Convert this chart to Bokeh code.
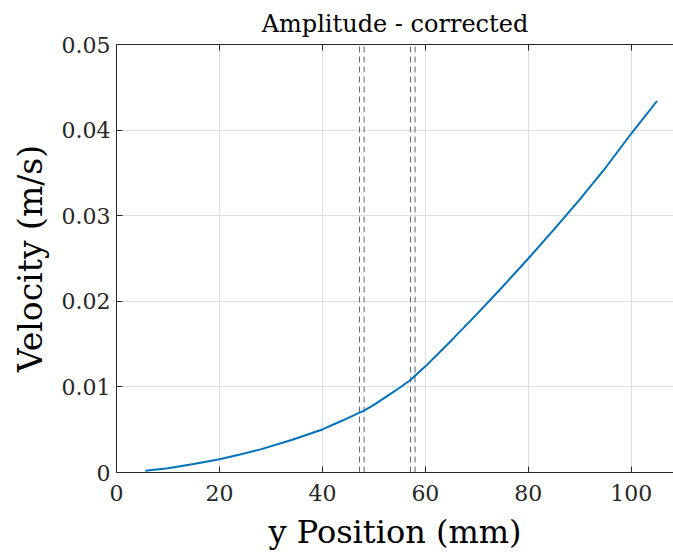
from bokeh.plotting import figure
from bokeh.models import Range1d, LinearAxis, FixedTicker, Title
from bokeh.embed import file_html
from bokeh.resources import INLINE

# ---- data ----
pos_mm = [5.6, 10, 15, 20, 24, 28, 34, 40, 44, 47.2, 48.0, 50, 52.5, 55, 57.1, 58.0, 60, 65, 70,
          75, 80, 85, 90, 95, 100, 105]
vel = [0.0002, 0.0005, 0.0010, 0.00154, 0.0021, 0.0027, 0.0038, 0.00503, 0.0061, 0.0070, 0.0072, 0.0079,
       0.0089, 0.0099, 0.0108, 0.0113, 0.0124, 0.0154, 0.0185, 0.0217, 0.0250, 0.0284, 0.0319, 0.0356,
       0.0396, 0.0434]
boundaries_mm = [47.2, 48.1, 57.1, 58.0]
x_ticks = [0, 20, 40, 60, 80, 100]
x_tick_labels = ["0", "20", "40", "60", "80", "100"]
y_ticks = [0, 0.01, 0.02, 0.03, 0.04, 0.05]
y_tick_labels = ["0", "0.01", "0.02", "0.03", "0.04", "0.05"]
title_text = "Amplitude - corrected"
x_label = "y Position (mm)"
y_label = "Velocity (m/s)"

FONT = "DejaVu Serif"
AX = "#262626"

p = figure(width=673, height=558, output_backend="svg", toolbar_location=None,
           x_range=Range1d(0, 108.2), y_range=Range1d(0, 0.05),
           x_axis_location=None, y_axis_location=None,
           min_border_left=116, min_border_right=0, min_border_top=43, min_border_bottom=85)
p.outline_line_color = None
p.background_fill_color = "white"

def style_axis(ax, ticks, labels, show_labels=True):
    ax.ticker = FixedTicker(ticks=ticks)
    ax.major_label_overrides = {t: l for t, l in zip(ticks, labels)}
    ax.axis_line_color = AX
    ax.axis_line_width = 1
    ax.major_tick_line_color = AX
    ax.major_tick_in = 6
    ax.major_tick_out = 0
    ax.minor_tick_line_color = None
    ax.major_label_text_font = FONT
    ax.major_label_text_font_size = "22px"
    ax.major_label_text_color = AX if show_labels else None

bottom = LinearAxis()
style_axis(bottom, x_ticks, x_tick_labels)
bottom.major_label_standoff = 12
p.add_layout(bottom, "below")

top = LinearAxis()
style_axis(top, x_ticks, x_tick_labels, show_labels=False)
top.major_label_text_font_size = "1px"
top.major_label_standoff = 0
p.add_layout(top, "above")

left = LinearAxis()
style_axis(left, y_ticks, y_tick_labels)
left.major_label_standoff = 6
left.axis_label = y_label
left.axis_label_text_font = FONT
left.axis_label_text_font_size = "33px"
left.axis_label_text_font_style = "normal"
left.axis_label_text_color = "black"
left.axis_label_standoff = 9
p.add_layout(left, "left")

p.xgrid.ticker = FixedTicker(ticks=x_ticks)
p.ygrid.ticker = FixedTicker(ticks=y_ticks)
for g in (p.xgrid, p.ygrid):
    g.grid_line_color = "#dedede"
    g.grid_line_width = 1

p.segment(x0=boundaries_mm, y0=[0] * len(boundaries_mm), x1=boundaries_mm, y1=[0.05] * len(boundaries_mm),
          line_color="#666666", line_width=1, line_dash="6 4")

p.line(pos_mm, vel, line_color="#0072BD", line_width=2)

p.add_layout(Title(text=title_text, align="center", offset=5, text_font=FONT, text_font_size="24px",
                   text_font_style="normal", text_color="black", standoff=14), "above")
p.add_layout(Title(text=x_label, align="center", offset=5, text_font=FONT, text_font_size="32px",
                   text_font_style="normal", text_color="black", standoff=15), "below")

open("out.html", "w").write(file_html(p, INLINE))
